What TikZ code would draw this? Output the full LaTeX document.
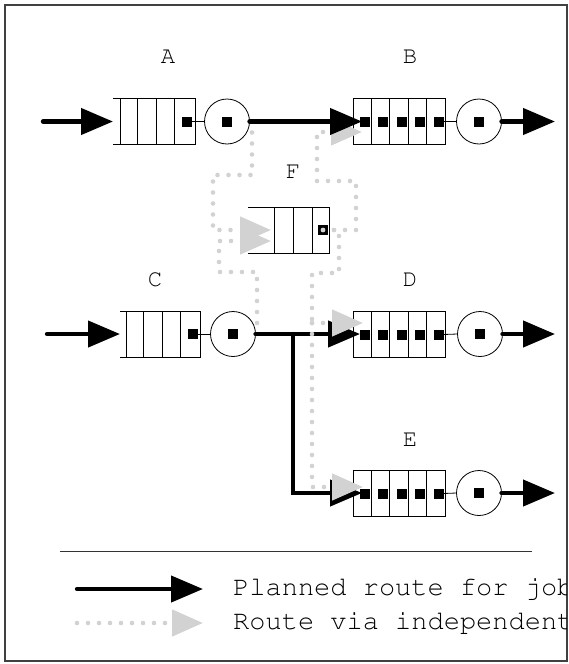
\documentclass[tikz,border=0pt]{standalone}
\usetikzlibrary{arrows.meta,calc}
\definecolor{altgrey}{HTML}{D2D2D2}
\newcommand\courierfont{\fontencoding{OT1}\fontfamily{pcr}\selectfont}
\begin{document}
\begin{tikzpicture}[x=1pt,y=-1pt,
  qnode/.style={draw=none, minimum height=46pt, inner sep=0pt, outer sep=0pt},
  srv/.style={circle, draw=black, line width=0.8pt, minimum size=45pt, inner sep=0pt, outer sep=0pt},
  qline/.style={line width=0.8pt, draw=black},
  lbl/.style={font=\courierfont\fontsize{24}{24}\selectfont, inner sep=0pt},
  legtext/.style={font=\courierfont\fontsize{27}{27}\selectfont, inner sep=0pt, anchor=west},
  route/.style={line width=4.3pt, draw=black, line cap=round, line join=miter,
    -{Triangle[length=32pt,width=26pt]}},
  alt/.style={line width=4.6pt, draw=altgrey, line cap=round, dash pattern=on 0pt off 11pt,
    -{Triangle[length=31pt,width=26pt,fill=altgrey]}},
  altline/.style={line width=4.6pt, draw=altgrey, line cap=round, dash pattern=on 0pt off 11pt},
  jobsq/.style={fill=black}
]
\useasboundingbox (0,0) rectangle (569,664);
\draw[line width=1.5pt, black!75] (5,5) rectangle (567,661);

% ---------- labels
\node[lbl] (lA) at (168,57) {A};
\node[lbl] (lB) at (410,57) {B};
\node[lbl] (lF) at (293,172) {F};
\node[lbl] (lC) at (155,280) {C};
\node[lbl] (lD) at (410,280) {D};
\node[lbl] (lE) at (410,440) {E};

% ---------- queue nodes and servers
\node[qnode, minimum width=82pt] (qA) at (154,121.5) {};
\node[qnode, minimum width=92pt] (qB) at (399,121.5) {};
\node[qnode, minimum width=81pt] (qF) at (288.5,230) {};
\node[qnode, minimum width=80pt] (qC) at (160,334) {};
\node[qnode, minimum width=92pt] (qD) at (399,334.5) {};
\node[qnode, minimum width=92pt] (qE) at (399,493.5) {};

\node[srv] (sA) at (227,121.5) {};
\node[srv] (sB) at (479,121.5) {};
\node[srv] (sC) at (233,334) {};
\node[srv] (sD) at (480,334) {};
\node[srv] (sE) at (479,493) {};
\foreach \s in {sA,sB,sC,sD,sE}
  \fill[jobsq] ($(\s.center)+(-5,-5)$) rectangle ($(\s.center)+(5,5)$);

% queue A (open left end)
\draw[qline] (qA.north west) -- (qA.north east) -- (qA.south east) -- (qA.south west);
\foreach \x in {120,137,156,174} \draw[qline] (\x,98.5) -- (\x,144.5);
\fill[jobsq] (181.5,116.5) rectangle (191.5,126.5);
\draw[qline] (191.5,121.5) -- (sA.west);

% queue C
\draw[qline] (qC.north west) -- (qC.north east) -- (qC.south east) -- (qC.south west);
\foreach \x in {126,143,162,180} \draw[qline] (\x,311) -- (\x,357);
\fill[jobsq] (187.5,329) rectangle (197.5,339);
\draw[qline] (197.5,334) -- (sC.west);

% queue F (open left end)
\draw[qline] (qF.north west) -- (qF.north east) -- (qF.south east) -- (qF.south west);
\foreach \x in {274,293,312} \draw[qline] (\x,207) -- (\x,253);
\fill[jobsq] (318,225) rectangle (328,235);

% full queues B, D, E
\foreach \q/\s in {qB/sB,qD/sD,qE/sE}{
  \draw[qline] (\q.north west) rectangle (\q.south east);
  \foreach \k in {1,2,3,4}
    \draw[qline] ($(\q.north west)+(18.4*\k,0)$) -- ($(\q.south west)+(18.4*\k,0)$);
  \foreach \k in {1,...,5}
    \fill[jobsq] ($(\q.west)+(18.4*\k-11.5,-5)$) rectangle ($(\q.west)+(18.4*\k-1.5,5)$);
  \draw[qline] ($(\q.east)+(-1.5,0)$) -- (\s.west);
}

% ---------- grey routes into F and B (under the black route of row A)
\draw[alt] ($(sA.east)+(2.5,0)$) -- (252,175) -- (213,175) -- (213,230) -- ($(qF.west)+(23,0)$);
\draw[alt] ($(sC.east)+(1.5,0)$) -- (257,272) -- (219,272) -- (219,241) -- ($(qF.west)+(23,11)$);
\draw[alt] (323,230) -- (356,230) -- (356,181) -- (317,181) -- (317,132) -- ($(qB.west)+(9,10.5)$);

% ---------- black routes
\coordinate (Ain) at (43,121.5);
\coordinate (Cin) at (47,334);
\coordinate (Aout) at (555,121.5);
\coordinate (Dout) at (555,334);
\coordinate (Eout) at (555,493);
\coordinate (J) at (293,334);
\draw[route] (Ain) -- (qA.west);
\draw[route] (sA.east) -- ($(qB.west)+(9,0)$);
\draw[route] (sB.east) -- (Aout);
\draw[route] (Cin) -- (qC.west);
\draw[route] (sC.east) -- ($(qD.west)+(7,-0.5)$);
\draw[route] (J) |- ($(qE.west)+(9,-0.5)$);
\draw[route] (sD.east) -- (Dout);
\draw[route] (sE.east) -- (Eout);

% ---------- grey routes from F to D and E (over the black routes)
\coordinate (K) at (312,323);
\draw[altline] (323,230) -- (339,230) -- (339,273) -- (312,273) -- (K);
\draw[alt] (K) -- ($(qD.west)+(10,-11.5)$);
\draw[alt] (K) -- (312,487) -- ($(qE.west)+(10,-6.5)$);

% ---------- legend
\draw[line width=0.8pt, black!80] (60,551) -- (532,551);
\coordinate (L1a) at (77,589);
\coordinate (L1b) at (203,589);
\coordinate (L2a) at (77,623);
\coordinate (L2b) at (203,623);
\draw[route] (L1a) -- (L1b);
\draw[alt] (L2a) -- (L2b);
\begin{scope}
  \clip (5,5) rectangle (566.2,661);
  \node[legtext] (t1) at (233,589) {Planned route for job};
  \node[legtext] (t2) at (233,623) {Route via independent};
\end{scope}
\end{tikzpicture}
\end{document}
